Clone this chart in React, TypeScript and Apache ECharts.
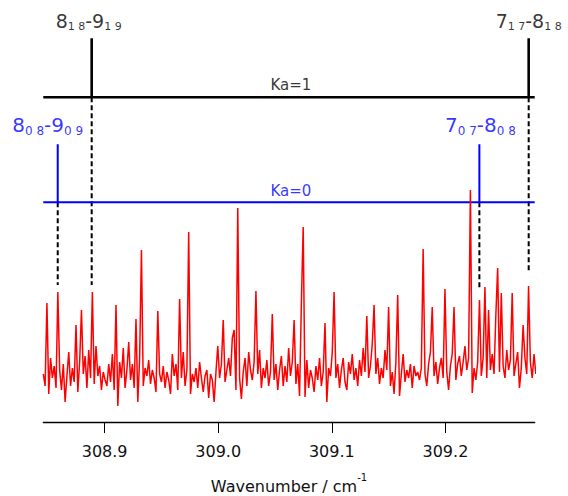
import React, { useEffect, useRef } from "react";
import * as echarts from "echarts";

const FONT = "DejaVu Sans";

const X_MIN = 308.846;
const X_MAX = 309.2786;
const TICK_VALUES = [308.9, 309.0, 309.1, 309.2];

const SPECTRUM_START = 308.846;
const SPECTRUM_STEP = 0.0016;
const SPECTRUM = [
  4, -2, 39.5, -6, 12, 2, 8, -3, 45, 6,
  -4, 9, -10, 3, 15, -2, 7, 0, 28.5, -5,
  10, 36, 4, 13, -3, 16, 2, 45, -1, 18,
  3, 8, -4, 5, 1, -2, 9, 0, 14, -4,
  38.5, -12, 10, 2, 17, -3, 6, 20, 1, 9,
  -3, 31.5, -10, 12, 66, -2, 7, 3, 11, -1,
  6, 2, -5, 35.5, 4, 0, 8, -3, 5, 1,
  -6, 14, 3, 9, -4, 41.5, 2, 15, -2, 6,
  75, -6, 4, 0, 7, -3, 10, 2, -5, 3,
  6, -8, 4, 1, -10, 5, 18, 2, 9, 31,
  0, 6, 12, 3, 22, 26, -4, 87, 2, -8.5,
  5, 12, -2, 15, 6, 1, 10, 45.5, 4, 16,
  -3, 7, 2, 11, -2, 5, 34, 1, 9, -4,
  6, 13, -2, 8, 0, 17, 3, 10, 31, -1,
  9, -7, 40, 77.5, -7.5, 11, -3, 6, 2, -5,
  8, 1, 12, -2, 5, 29.5, -10, 7, 3, 15,
  45, 2, 9, -3, 6, 12, 0, -4, 10, 4,
  14, 1, 7, -2, 11, 3, 17, 5, 33, 2,
  8, 19, 38.5, 4, 12, -1, 7, 2, 16, 6,
  37.5, -2, 5, -6, 10, 43.5, -7, 4, 14, 0,
  6, 2, 9, -3, 8, 3, 5, 1, 7, 66.5,
  4, -2, 9, 15, 37.5, 3, 10, -1, 7, 12,
  2, 46.5, 5, -4, 8, 14, 37.5, 1, 9, 13,
  3, 10, 18, 6, 12, 96, -5.5, 7, 1, 10,
  41, 3, 12, 47.5, 2, 36, 6, 14, 4, 33.5,
  57, 5, 44.5, 8, 2, 16, 6, 11, 44.5, 3,
  9, 15, -3, 7, 28.5, 12, 4, 48, 10, 2,
  14, 4,
];

const KA1_POSITIONS = [308.8886, 309.2733];
const KA0_POSITIONS = [308.8587, 309.2299];
const KA1_BASE = 142.35;
const KA0_BASE = 89.85;
const KA1_HEIGHT = 29.5;
const KA0_HEIGHT = 29;
const KA1_LABELS = [
  ["8", "1 8", "9", "1 9"],
  ["7", "1 7", "8", "1 8"],
];
const KA0_LABELS = [
  ["8", "0 8", "9", "0 9"],
  ["7", "0 7", "8", "0 8"],
];
const KA1_DASH_ENDS = [48.5, 54.5];
const KA0_DASH_ENDS = [48.5, 47];
const KA_TITLE_X = 309.064;
const KA1_TITLE = "Ka=1";
const KA0_TITLE = "Ka=0";
const X_TITLE = "Wavenumber / cm";
const X_TITLE_SUP = "-1";

function stickLine(positions: number[], base: number, height: number) {
  const pts: number[][] = [[X_MIN, base]];
  positions.forEach((p) => {
    pts.push([p, base], [p, base + height], [p, base]);
  });
  pts.push([X_MAX, base]);
  return pts;
}

function labelText(parts: string[]) {
  return `{m|${parts[0]}}{s|${parts[1]}}{m|-${parts[2]}}{s|${parts[3]}}`;
}

export default function App() {
  const ref = useRef<HTMLDivElement>(null);

  useEffect(() => {
    if (!ref.current) return;
    const chart = echarts.init(ref.current, undefined, { renderer: "svg" });

    const spectrumData = SPECTRUM.map((v, i) => [SPECTRUM_START + i * SPECTRUM_STEP, v]);

    const dashSeries: any[] = [];
    KA1_POSITIONS.forEach((p, i) => {
      dashSeries.push({
        type: "line",
        data: [
          [p, KA1_BASE],
          [p, KA1_DASH_ENDS[i]],
        ],
        symbol: "none",
        silent: true,
        lineStyle: { color: "#000", width: 2, type: [5, 3] },
        z: 1,
      });
    });
    KA0_POSITIONS.forEach((p, i) => {
      dashSeries.push({
        type: "line",
        data: [
          [p, KA0_BASE],
          [p, KA0_DASH_ENDS[i]],
        ],
        symbol: "none",
        silent: true,
        lineStyle: { color: "#000", width: 2, type: [5, 3] },
        z: 1,
      });
    });

    const mkLabels = (
      positions: number[],
      base: number,
      height: number,
      labels: string[][],
      color: string,
      F: number,
      f: number,
      H: number,
      dist: number,
      offsets: number[][]
    ) => ({
      type: "scatter",
      symbolSize: 0,
      silent: true,
      data: positions.map((p, i) => ({
        value: [p, base + height],
        label: {
          show: true,
          position: "top",
          distance: dist,
          offset: offsets[i],
          formatter: labelText(labels[i]),
          rich: {
            m: { fontSize: F, lineHeight: H, verticalAlign: "top", color, fontFamily: FONT },
            s: { fontSize: f, lineHeight: f, verticalAlign: "bottom", color, fontFamily: FONT },
          },
        },
      })),
      z: 5,
    });

    chart.setOption({
      animation: false,
      grid: {
        left: 43.3,
        right: 33.3,
        top: 0,
        bottom: 74,
        containLabel: false,
        outerBoundsMode: "none",
      },
      xAxis: {
        type: "value",
        min: X_MIN,
        max: X_MAX,
        axisLine: { show: true, onZero: false, lineStyle: { color: "#000", width: 1.3 } },
        axisTick: {
          show: true,
          length: 11,
          customValues: TICK_VALUES,
          lineStyle: { color: "#000", width: 1 },
        },
        axisLabel: {
          customValues: TICK_VALUES,
          formatter: (v: number) => v.toFixed(1),
          fontSize: 16,
          color: "#111",
          margin: 21,
          fontFamily: FONT,
        },
        splitLine: { show: false },
        name: `{m|${X_TITLE}}{s|${X_TITLE_SUP}}`,
        nameLocation: "middle",
        nameGap: 50,
        nameTextStyle: {
          rich: {
            m: { fontSize: 16, lineHeight: 22, verticalAlign: "bottom", color: "#111", fontFamily: FONT },
            s: { fontSize: 10, lineHeight: 10, verticalAlign: "top", color: "#111", fontFamily: FONT },
          },
        },
      },
      yAxis: { type: "value", min: -20, max: 191, show: false },
      series: [
        ...dashSeries,
        {
          type: "line",
          data: stickLine(KA1_POSITIONS, KA1_BASE, KA1_HEIGHT),
          symbol: "none",
          silent: true,
          lineStyle: { color: "#000", width: 2.6 },
          z: 2,
        },
        {
          type: "line",
          data: stickLine(KA0_POSITIONS, KA0_BASE, KA0_HEIGHT),
          symbol: "none",
          silent: true,
          lineStyle: { color: "#0000ff", width: 2 },
          z: 2,
        },
        {
          type: "line",
          data: spectrumData,
          symbol: "none",
          silent: true,
          lineStyle: { color: "#ff0000", width: 1.5 },
          z: 3,
        },
        mkLabels(KA1_POSITIONS, KA1_BASE, KA1_HEIGHT, KA1_LABELS, "#000", 19, 11, 21, 6, [
          [-3, 0],
          [0, 0],
        ]),
        mkLabels(KA0_POSITIONS, KA0_BASE, KA0_HEIGHT, KA0_LABELS, "#0000ff", 20, 12, 22, 7, [
          [-10, 0],
          [1, 0],
        ]),
        {
          type: "scatter",
          symbolSize: 0,
          silent: true,
          data: [
            {
              value: [KA_TITLE_X, KA1_BASE],
              label: { show: true, position: "top", distance: 5, formatter: KA1_TITLE, color: "#000", fontSize: 15, fontFamily: FONT },
            },
            {
              value: [KA_TITLE_X, KA0_BASE],
              label: { show: true, position: "top", distance: 4, formatter: KA0_TITLE, color: "#0000ff", fontSize: 15, fontFamily: FONT },
            },
          ],
          z: 5,
        },
      ],
    });

    return () => chart.dispose();
  }, []);

  return (
    <div
      ref={ref}
      style={{ position: "fixed", left: 0, top: 0, width: 568, height: 496, background: "#fff" }}
    />
  );
}
